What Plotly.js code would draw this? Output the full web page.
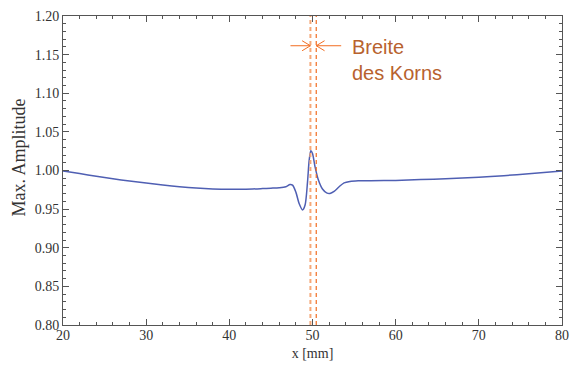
<!DOCTYPE html>
<html><head><meta charset="utf-8">
<script src="https://cdn.plot.ly/plotly-3.0.1.min.js"></script>
<style>body{margin:0;background:#fff}#c{width:571px;height:371px}</style>
</head><body><div id="c"></div>
<script>
const xPos = [20, 22, 24, 26, 28, 30, 32, 34, 36, 38, 40, 42, 44, 45, 46, 46.8, 47.3, 47.6, 48.0, 48.4, 48.8, 49.1, 49.4, 49.6, 49.8, 50.0, 50.3, 50.7, 51.2, 51.7, 52.1, 52.6, 53.2, 53.8, 54.5, 55.5, 57, 60, 63, 66, 70, 73, 76, 80];
const amplitude = [0.9994, 0.9960, 0.9925, 0.9893, 0.9864, 0.9838, 0.9812, 0.9790, 0.9773, 0.9762, 0.9757, 0.9758, 0.9766, 0.9771, 0.9777, 0.9790, 0.9820, 0.9810, 0.9720, 0.9570, 0.9490, 0.9550, 0.9850, 1.0130, 1.0256, 1.0220, 1.0050, 0.9880, 0.9760, 0.9710, 0.9703, 0.9730, 0.9790, 0.9840, 0.9858, 0.9866, 0.9868, 0.9872, 0.9882, 0.9893, 0.9912, 0.9933, 0.9958, 0.9994];
const grainEdges = [49.75, 50.45];
const xTickVals = [20, 30, 40, 50, 60, 70, 80];
const yTickVals = [0.80, 0.85, 0.90, 0.95, 1.00, 1.05, 1.10, 1.15, 1.20];
const labelLines = ["Breite", "des Korns"];

const orange = '#f26d21';
const shapes = [
  {type:'line', xref:'x', yref:'paper', x0:grainEdges[0], x1:grainEdges[0], y0:0, y1:1, line:{color:'#f5a878', width:2, dash:'4px,3px'}},
  {type:'line', xref:'x', yref:'paper', x0:grainEdges[1], x1:grainEdges[1], y0:0, y1:1, line:{color:orange, width:1.2, dash:'4px,3px'}}
];
const ay = 1.1615, dx = 1.0, hy = 0.0065;
shapes.push({type:'line', xref:'x', yref:'y', x0:grainEdges[0]-2.4, x1:grainEdges[0], y0:ay, y1:ay, line:{color:orange, width:1}});
shapes.push({type:'line', xref:'x', yref:'y', x0:grainEdges[0]-dx, x1:grainEdges[0], y0:ay+hy, y1:ay, line:{color:orange, width:1}});
shapes.push({type:'line', xref:'x', yref:'y', x0:grainEdges[0]-dx, x1:grainEdges[0], y0:ay-hy, y1:ay, line:{color:orange, width:1}});
shapes.push({type:'line', xref:'x', yref:'y', x0:grainEdges[1]+3.0, x1:grainEdges[1], y0:ay, y1:ay, line:{color:orange, width:1}});
shapes.push({type:'line', xref:'x', yref:'y', x0:grainEdges[1]+dx, x1:grainEdges[1], y0:ay+hy, y1:ay, line:{color:orange, width:1}});
shapes.push({type:'line', xref:'x', yref:'y', x0:grainEdges[1]+dx, x1:grainEdges[1], y0:ay-hy, y1:ay, line:{color:orange, width:1}});

const serif = 'Liberation Serif, Times New Roman, serif';
const axisCommon = {
  showgrid:false, zeroline:false, showline:true, linecolor:'#555', linewidth:1,
  mirror:'allticks', ticks:'inside', ticklen:6, tickcolor:'#555',
  tickfont:{family:serif, size:14, color:'#333'}
};
Plotly.newPlot('c', [{
  x:xPos, y:amplitude, type:'scatter', mode:'lines',
  line:{color:'#4f5fb3', width:1.5, shape:'spline', smoothing:0.8}, hoverinfo:'none'
}], {
  width:571, height:371,
  margin:{l:63, r:9, t:16, b:46},
  paper_bgcolor:'#fff', plot_bgcolor:'#fff', showlegend:false,
  xaxis:Object.assign({}, axisCommon, {range:[20,80], tickvals:xTickVals, ticktext:xTickVals.map(String),
    ticklabelstandoff:-3,
    minor:{dtick:2, tick0:20, ticks:'inside', ticklen:3, tickcolor:'#555'},
    title:{text:'x [mm]', font:{family:serif, size:14, color:'#333'}, standoff:6}}),
  yaxis:Object.assign({}, axisCommon, {range:[0.80,1.20], tickvals:yTickVals, ticktext:yTickVals.map(v=>v.toFixed(2)),
    minor:{dtick:0.01, tick0:0.8, ticks:'inside', ticklen:3, tickcolor:'#555'}}),
  shapes:shapes,
  annotations:[
    {xref:'paper', yref:'y', x:-0.088, y:1.017, xanchor:'center', yanchor:'middle', textangle:-90, showarrow:false,
     text:'Max. Amplitude', font:{family:serif, size:18, color:'#333'}},
    {xref:'x', yref:'y', x:54.55, y:1.143, xanchor:'left', yanchor:'middle', showarrow:false, align:'left',
     text:labelLines.join('<br>'), font:{family:'Liberation Sans, Arial, sans-serif', size:20, color:'#b8622e'}}
  ]
}, {staticPlot:true});
</script></body></html>
